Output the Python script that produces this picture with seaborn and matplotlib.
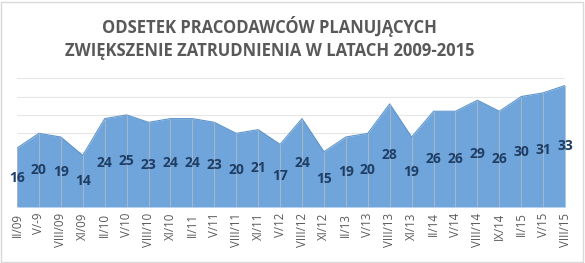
import matplotlib
matplotlib.use("Agg")
import matplotlib.pyplot as plt
import seaborn as sns
import pandas as pd
import numpy as np

periods = ["II/09", "V/-9", "VIII/09", "XI/09", "II/10", "V/10", "VIII/10", "XI/10",
           "II/11", "V/11", "VIII/11", "XI/11", "V/12", "VIII/12", "XI/12", "II/13",
           "V/13", "VIII/13", "XI/13", "II/14", "V/14", "VIII/14", "IX/14", "II/15",
           "V/15", "VIII/15"]
values = [16, 20, 19, 14, 24, 25, 23, 24, 24, 23, 20, 21, 17, 24, 15, 19, 20, 28,
          19, 26, 26, 29, 26, 30, 31, 33]

df = pd.DataFrame({"pos": np.arange(len(periods)), "period": periods, "value": values})

sns.set_theme(style="white")
plt.rcParams['font.family'] = ['Open Sans', 'DejaVu Sans']

fig = plt.figure(figsize=(5.85, 2.63), dpi=100)
ax = fig.add_axes([0.029, 0.213, 0.937, 0.49])

area_color = "#6FA5DA"
ax.fill_between(df["pos"], 0, df["value"], color=area_color, linewidth=0, zorder=2)
sns.lineplot(data=df, x="pos", y="value", ax=ax, color="#5E95CC", linewidth=0.8, zorder=3)
ax.vlines(df["pos"], 0, df["value"], color="#A3B5C8", linewidth=0.8, zorder=3)

for y in range(5, 40, 5):
    ax.axhline(y, color="#E6E6E6", linewidth=0.8, zorder=1)

for p, v in zip(df["pos"], df["value"]):
    ax.text(p, v / 2, str(v), ha="center", va="center", fontsize=10,
            fontweight="bold", color="#1F3E66", zorder=4)

ax.set_xlim(0, len(periods) - 1)
ax.set_ylim(0, 35)
ax.set_xticks(df["pos"])
ax.set_xticklabels(periods, rotation=90, fontsize=8.3, color="#595959")
ax.set_yticks([])
ax.set_xlabel("")
ax.set_ylabel("")
ax.tick_params(axis="x", length=0, pad=4)
for s in ax.spines.values():
    s.set_visible(False)

fig.text(0.461, 0.9, "ODSETEK PRACODAWCÓW PLANUJĄCYCH", ha="center", va="center",
         fontsize=12, fontweight="bold", color="#595959")
fig.text(0.461, 0.805, "ZWIĘKSZENIE ZATRUDNIENIA W LATACH 2009-2015", ha="center", va="center",
         fontsize=12, fontweight="bold", color="#595959")

border = plt.Rectangle((0.002, 0.004), 0.995, 0.99, transform=fig.transFigure,
                       fill=False, edgecolor="#D9D9D9", linewidth=1)
fig.add_artist(border)

fig.savefig("out.png", dpi=100, facecolor="white")
